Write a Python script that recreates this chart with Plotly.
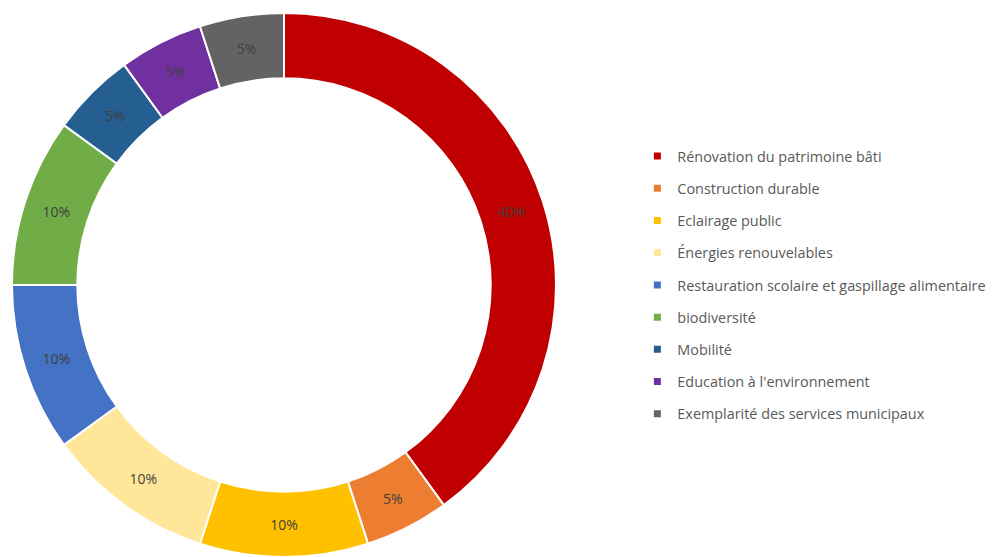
import plotly.graph_objects as go

categories = [
    "Rénovation du patrimoine bâti",
    "Construction durable",
    "Eclairage public",
    "Énergies renouvelables",
    "Restauration scolaire et gaspillage alimentaire",
    "biodiversité",
    "Mobilité",
    "Education à l'environnement",
    "Exemplarité des services municipaux",
]
values = [40, 5, 10, 10, 10, 10, 5, 5, 5]
colors = ["#C00000", "#ED7D31", "#FFC000", "#FFE699", "#4472C4",
          "#70AD47", "#255E91", "#7030A0", "#636363"]

W, H = 999, 557
fig = go.Figure()
fig.add_trace(go.Pie(
    labels=categories, values=values, sort=False, direction="clockwise",
    rotation=0, hole=0.76,
    marker=dict(colors=colors, line=dict(color="white", width=2)),
    textinfo="percent", texttemplate="%{percent:.0%}",
    textposition="inside", insidetextorientation="horizontal",
    textfont=dict(family="Open Sans", size=14, color="#404040"),
    domain=dict(x=[12 / W, 556 / W], y=[0, 1 - 13 / H]),
    showlegend=False, hoverinfo="label+percent",
))
for i, (c, col) in enumerate(zip(categories, colors)):
    fig.add_trace(go.Scatter(
        x=[None], y=[None], mode="markers", name=c,
        marker=dict(symbol="square", size=7, color=col),
        legendgroup=f"g{i}", showlegend=True,
    ))

fig.update_layout(
    width=W, height=H, margin=dict(l=0, r=0, t=0, b=0),
    paper_bgcolor="white", plot_bgcolor="white",
    xaxis=dict(visible=False, domain=[0.99, 1]),
    yaxis=dict(visible=False, domain=[0.99, 1]),
    legend=dict(x=0.638, y=0.488, xanchor="left", yanchor="middle",
                font=dict(family="Open Sans", size=14.4, color="#595959"),
                tracegroupgap=10.5, bgcolor="rgba(0,0,0,0)"),
    font=dict(family="Open Sans"),
)
fig.write_html("out.html", config={"displayModeBar": False},
               post_script="document.body.style.margin='0';")
